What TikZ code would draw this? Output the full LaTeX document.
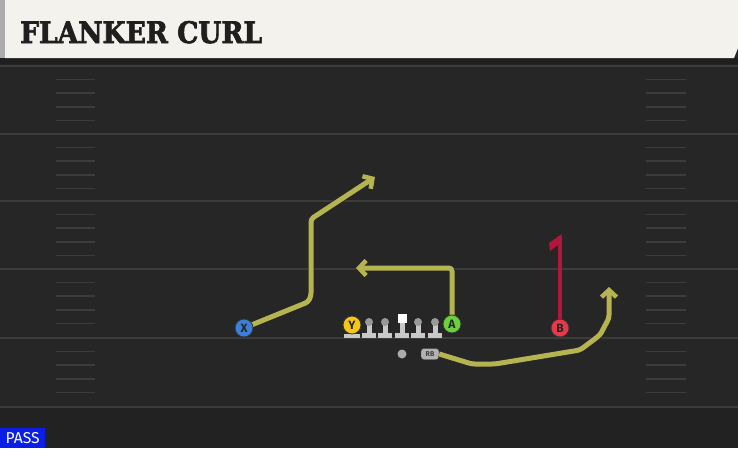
\documentclass[tikz,border=0pt]{standalone}
\usepackage{fontspec}
\usepackage{graphicx}
\usetikzlibrary{arrows.meta}
\newfontfamily\titlefont{DejaVu Serif}[BoldFeatures={FakeBold=2.5}]
\newfontfamily\tagfont{Fira Sans}
\definecolor{fieldbg}{HTML}{262626}
\definecolor{fieldlow}{HTML}{222222}
\definecolor{cream}{HTML}{F4F2EC}
\definecolor{yardgray}{HTML}{3C3C3C}
\definecolor{routeolive}{HTML}{B5B450}
\definecolor{routered}{HTML}{B3163A}
\definecolor{xblue}{HTML}{3B7FD9}
\definecolor{yyellow}{HTML}{F5C518}
\definecolor{agreen}{HTML}{6AD13C}
\definecolor{bred}{HTML}{E8394A}
\definecolor{linegray}{HTML}{C8C8C8}
\definecolor{headgray}{HTML}{999999}
\definecolor{passblue}{HTML}{0A1EE6}
\begin{document}
\begin{tikzpicture}[x=1pt,y=-1pt,
  player/.style={draw=black!80,line width=0.8pt,circle,minimum size=18pt,inner sep=0pt,
    font=\tagfont\bfseries\fontsize{12}{12}\selectfont,text=black!85},
  lineman/.style={circle,fill=headgray,minimum size=8pt,inner sep=0pt},
  route/.style={draw=routeolive,line width=5pt,line join=round,rounded corners=3pt,
    -{Straight Barb[length=7pt,width=15pt,line width=4.5pt]},
    preaction={draw=black!85,line width=6.5pt,-}},
  yardline/.style={draw=yardgray,line width=2pt},
  hashmark/.style={draw=yardgray,line width=1.6pt}]
\useasboundingbox (0,0) rectangle (738,448);
% field
\fill[fieldbg] (0,0) rectangle (738,448);
\fill[fieldlow] (0,408) rectangle (738,448);
\foreach \y in {66,134,201,269,338,407}
  \draw[yardline] (0,\y) -- (738,\y);
\foreach \y in {66,134,201,269,338}
  \foreach \k in {1,...,4} {
    \draw[hashmark] (56,{\y+13.6*\k}) -- (95,{\y+13.6*\k});
    \draw[hashmark] (646,{\y+13.6*\k}) -- (686,{\y+13.6*\k});
  }
% header
\fill[black!88] (0,58) rectangle (738,64);
\fill[cream] (5,0) -- (738,0) -- (738,48) -- (734,58) -- (5,58) -- cycle;
\fill[gray!65] (0,0) rectangle (5,58);
\node[anchor=base west,inner sep=0pt,text=black!88] (title) at (20,43)
  {\resizebox{242pt}{22pt}{\titlefont\bfseries FLANKER CURL}};
% offensive line
\fill[linegray] (344,334) rectangle (360,338);
\foreach \x/\n in {369/lt,385/lg,418/rg,435/rt} {
  \fill[linegray] (\x-2.5,323) rectangle (\x+2.5,334);
  \fill[linegray] (\x-7,333) rectangle (\x+7,338);
  \node[lineman] (\n) at (\x,322) {};
}
\fill[linegray] (399.5,320) rectangle (404.5,334);
\fill[linegray] (395,333) rectangle (409,338);
\node[fill=white,minimum size=9pt,inner sep=0pt] (c) at (402,318) {};
\node[circle,fill=gray!65,minimum size=9pt,inner sep=0pt] (qb) at (402,354) {};
\node[draw=black!70,fill=gray!60,rounded corners=3pt,minimum width=18pt,minimum height=11pt,
  inner sep=0pt,font=\tagfont\bfseries\fontsize{7}{7}\selectfont,text=black!75] (rb) at (430,354) {RB};
% routes
\coordinate (xend) at (375,177);
\coordinate (aend) at (356,268);
\coordinate (bend) at (560,236);
\coordinate (rbend) at (609,287);
\draw[route] (rb.east) -- (472,364) -- (495,364) -- (580,350) -- (600,335) -- (609,318) -- (rbend);
\draw[route] (244,328) -- (308,302) -- (311,296) -- (311,219) -- (xend);
\draw[route] (452,324) -- (452,268) -- (aend);
\draw[routered,line width=4.5pt] (560,328) -- (bend);
\fill[routered] (562,234) -- (549,243) -- (550,251) -- (558,245) -- cycle;
% players
\node[player,fill=xblue] (x) at (244,328) {X};
\node[player,fill=yyellow] (y) at (352,325) {Y};
\node[player,fill=agreen] (a) at (452,324) {A};
\node[player,fill=bred] (b) at (560,328) {B};
% play type
\node[fill=passblue,anchor=south west,minimum width=45pt,minimum height=20pt,inner sep=0pt,text=white] (pass) at (0,448)
  {\resizebox{34pt}{11pt}{\tagfont PASS}};
\end{tikzpicture}
\end{document}
